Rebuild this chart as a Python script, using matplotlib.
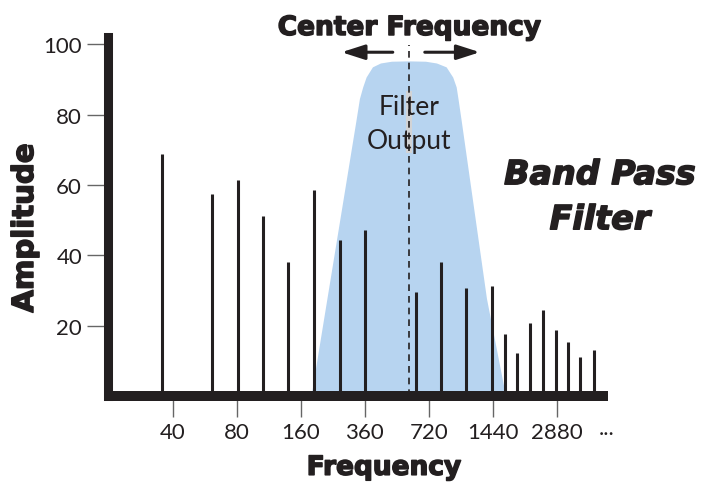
import matplotlib.pyplot as plt
import matplotlib.patheffects as pe
from matplotlib.patches import Polygon

# harmonic positions on the (log-spaced) frequency axis and their amplitudes
harm_x = [0.83, 1.62, 2.02, 2.42, 2.81, 3.21, 3.61, 4.01, 4.80, 5.20, 5.59, 5.99,
          6.20, 6.38, 6.59, 6.79, 6.99, 7.18, 7.37, 7.58]
harm_amp = [68.8, 57.5, 61.5, 51.2, 38.2, 58.6, 44.4, 47.2, 29.5, 38.2, 30.6, 31.3,
            17.5, 12.2, 20.7, 24.4, 18.8, 15.3, 11.2, 13.1]

# band pass filter response outline
filter_x = [3.172, 3.872, 3.927, 3.978, 4.031, 4.130, 4.255, 4.427, 4.692, 4.958,
            5.130, 5.281, 5.384, 5.438, 5.466, 5.516, 5.911, 6.208]
filter_y = [0, 78.1, 84.4, 87.7, 90.5, 93.4, 94.5, 95.0, 95.1, 95.0,
            94.5, 93.4, 90.5, 87.7, 84.4, 78.2, 27.6, 0]

center_freq = 4.697
tick_pos = [1, 2, 3, 4, 5, 6, 7]
tick_labels = ['40', '80', '160', '360', '720', '1440', '2880']
ytick_vals = [20, 40, 60, 80, 100]

ink = '#231f20'
blue = '#b7d4f0'
plt.rcParams['font.family'] = ['Lato', 'DejaVu Sans']
heavy = ['DejaVu Sans']
# thicken the bold text a little, the original uses a black weight
thick = [pe.withStroke(linewidth=1.1, foreground=ink)]

fig = plt.figure(figsize=(7.03, 4.89), dpi=100)
ax = fig.add_axes([0.1543, 0.1881, 0.711, 0.734])
ax.set_xlim(0, 7.806)
ax.set_ylim(0, 102)

ax.add_patch(Polygon(list(zip(filter_x, filter_y)), closed=True,
                     facecolor=blue, edgecolor='none', zorder=1))
# grey strip behind the filter label
ax.fill_between([center_freq - 0.05, center_freq + 0.045], 69.2, 86.7,
                color='#d2d3d5', zorder=1.5, lw=0)

ax.vlines(harm_x, 0, harm_amp, color=ink, lw=2.2, zorder=3)
ax.plot([center_freq, center_freq], [0, 99.7], color=ink, lw=1.2,
        ls=(0, (4, 3)), zorder=2, clip_on=False)

for side in ['top', 'right']:
    ax.spines[side].set_visible(False)
ax.spines['left'].set_linewidth(6.5)
ax.spines['bottom'].set_linewidth(7.2)
ax.spines['left'].set_color(ink)
ax.spines['bottom'].set_color(ink)
ax.spines['bottom'].set_capstyle('butt')

ax.set_yticks(ytick_vals)
ax.set_yticklabels([str(v) for v in ytick_vals], fontsize=16, color=ink)
ax.set_xticks(tick_pos)
ax.set_xticklabels(tick_labels, fontsize=16, color=ink)
ax.tick_params(axis='y', length=15, width=1, color='#666666', pad=4, direction='out')
ax.tick_params(axis='x', length=15, width=1, color='#666666', pad=4, direction='out')
ax.text(7.65, -6.3, '...', fontsize=16, color=ink, ha='left', va='top')

ax.set_xlabel('Frequency', fontsize=19, fontweight='bold', family=heavy, color=ink,
              path_effects=thick)
ax.xaxis.label.set_va('center')
ax.xaxis.set_label_coords(0.551, -0.2)
ax.set_ylabel('Amplitude', fontsize=21, fontweight='bold', family=heavy, color=ink,
              path_effects=thick)
ax.yaxis.label.set_va('center')
ax.yaxis.set_label_coords(-0.167, 0.468)

ax.text(center_freq, 80.1, 'Filter', fontsize=19, color=ink, ha='center', va='baseline')
ax.text(center_freq, 70.6, 'Output', fontsize=19, color=ink, ha='center', va='baseline')
ax.text(center_freq, 102.6, 'Center Frequency', fontsize=19, fontweight='bold', family=heavy,
        color=ink, ha='center', va='baseline', clip_on=False, path_effects=thick)
arrow_style = dict(arrowstyle='-|>,head_length=1.4,head_width=0.45', lw=2.2, color=ink,
                   shrinkA=0, shrinkB=0)
ax.annotate('', xy=(3.64, 97.7), xytext=(4.44, 97.7), arrowprops=arrow_style,
            annotation_clip=False)
ax.annotate('', xy=(5.80, 97.7), xytext=(4.94, 97.7), arrowprops=arrow_style,
            annotation_clip=False)

ax.text(7.677, 60.2, 'Band Pass', fontsize=24, fontweight='bold', style='italic', family=heavy,
        color=ink, ha='center', va='baseline', clip_on=False, path_effects=thick)
ax.text(7.677, 47.4, 'Filter', fontsize=24, fontweight='bold', style='italic', family=heavy,
        color=ink, ha='center', va='baseline', clip_on=False, path_effects=thick)

fig.savefig('out.png', dpi=100)
